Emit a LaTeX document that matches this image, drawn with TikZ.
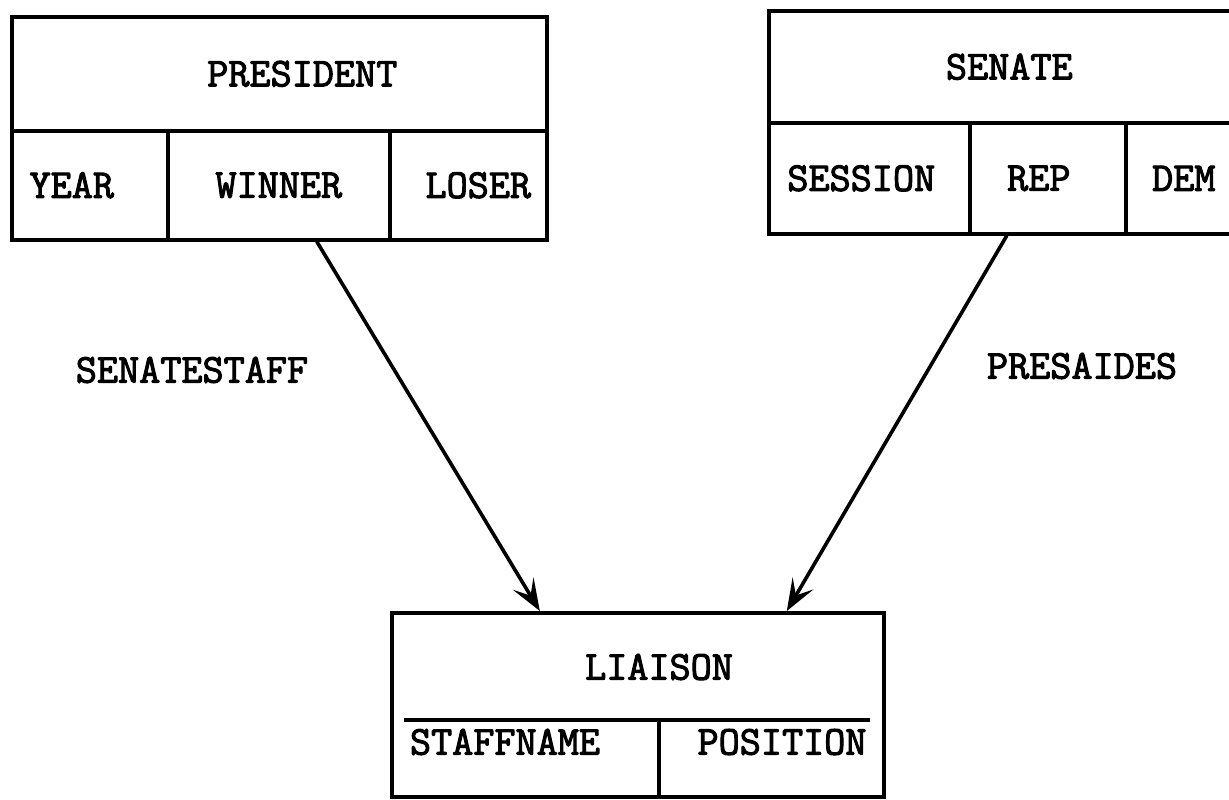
\documentclass[tikz,border=0pt]{standalone}
\usepackage{fontspec}
\usepackage{tikz}
\usetikzlibrary{positioning,arrows.meta}

\newfontfamily\tabfam{Latin Modern Mono}[FakeBold=2.5]
\newcommand\tabfont{\tabfam\fontsize{20.5}{24}\selectfont}

\tikzset{
  cell/.style={draw, line width=1.8pt, inner sep=0pt, anchor=north west, font=\tabfont},
  plain/.style={inner sep=0pt, font=\tabfont},
  link/.style={line width=1.8pt, -{Stealth[length=16pt,width=12pt,inset=7pt]}}
}

\begin{document}
\begin{tikzpicture}[x=0.5pt,y=-0.5pt]
\useasboundingbox (0,0) rectangle (1229,799);

% president relation
\node[cell, minimum width=267.5pt, minimum height=57pt] (president) at (10,15) {\hspace*{23pt}PRESIDENT};
\node[cell, minimum width=78pt, minimum height=54.5pt] (year) at (10,129) {YEAR\hspace*{18pt}};
\node[cell, minimum width=111pt, minimum height=54.5pt] (winner) at (166,129) {WINNER};
\node[cell, minimum width=78.5pt, minimum height=54.5pt] (loser) at (388,129) {\hspace*{10pt}LOSER};

% senate relation
\node[cell, minimum width=236.5pt, minimum height=56pt] (senate) at (767,9) {SENATE\hspace*{-4pt}};
\node[cell, minimum width=100.5pt, minimum height=55.5pt] (session) at (767,121) {SESSION\hspace*{8pt}};
\node[cell, minimum width=78pt, minimum height=55.5pt] (rep) at (968,121) {REP\hspace*{9pt}};
\node[cell, minimum width=58pt, minimum height=55.5pt] (dem) at (1124,121) {DEM};

% liaison relation
\node[cell, minimum width=246pt, minimum height=92pt] (liaison) at (390,611) {};
\node[plain] (liaisonname) at (659,667) {LIAISON};
\draw[line width=1.8pt] (404,720) -- (870,720);
\draw[line width=1.8pt] (659,720) -- (659,795);
\node[plain] (staffname) at (505,742) {STAFFNAME};
\node[plain] (position) at (782,742) {POSITION};

% links
\draw[link] ([xshift=19pt]winner.south) -- ([xshift=-49pt]liaison.north);
\draw[link] ([xshift=-20.5pt]rep.south) -- ([xshift=74.5pt]liaison.north);

\node[plain] (senatestaff) at (192,370) {SENATESTAFF};
\node[plain] (presaides) at (1082,366) {PRESAIDES};

\end{tikzpicture}
\end{document}
